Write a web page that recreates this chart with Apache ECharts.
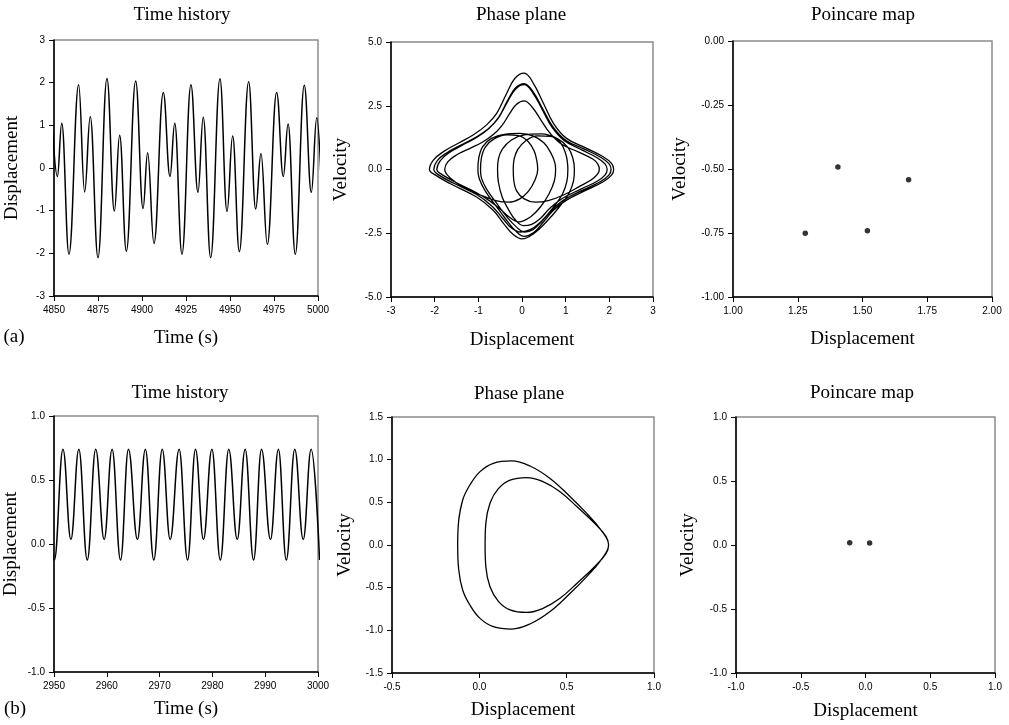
<!DOCTYPE html>
<html>
<head>
<meta charset="utf-8">
<script src="https://cdn.jsdelivr.net/npm/echarts@6/dist/echarts.min.js"></script>
<style>
  html, body { margin: 0; padding: 0; background: #fff; }
  #chart { width: 1009px; height: 725px; }
</style>
</head>
<body>
<div id="chart"></div>
<script>
// ---- Case (a): period-4 response ----
// Displacement extrema [time (s), displacement]; the first and last points lie just outside the window.
const historyA = [
  [4848.1, 1.77], [4851.9, -0.2], [4854.4, 1.05], [4858.5, -2.02], [4864.0, 1.95],
  [4867.4, -0.56], [4870.6, 1.2], [4875.0, -2.1], [4880.1, 2.1], [4884.3, -1.01],
  [4887.3, 0.77], [4891.1, -1.95], [4896.4, 2.04], [4900.6, -0.95], [4903.2, 0.36],
  [4906.8, -1.77], [4912.1, 1.77], [4915.9, -0.2], [4918.6, 1.05], [4922.7, -2.02],
  [4927.8, 1.95], [4931.8, -0.57], [4934.8, 1.19], [4939.0, -2.1], [4944.3, 2.09],
  [4948.3, -1.02], [4951.5, 0.75], [4955.3, -1.96], [4960.6, 2.02], [4964.6, -0.96],
  [4967.6, 0.34], [4971.2, -1.79], [4976.5, 1.77], [4980.3, -0.2], [4983.0, 1.03],
  [4987.1, -2.02], [4992.2, 1.94], [4996.2, -0.57], [4999.3, 1.18], [5003.3, -2.1]
];

// Phase-plane orbit over one period [displacement, velocity]
const orbitA = [
  [-0.2, 0], [-0.18, 0.42], [-0.1, 0.78], [0.08, 1.12], [0.35, 1.32], [0.65, 1.3], [0.88, 1.05], [1.0, 0.62], [1.04, 0.28],
  [1.05, 0], [1.03, -0.45], [0.93, -0.95], [0.72, -1.48], [0.46, -2.0], [0.2, -2.35], [-0.03, -2.45], [-0.25, -2.28], [-0.45, -1.9], [-0.68, -1.45], [-1.02, -1.0], [-1.55, -0.55], [-1.9, -0.22],
  [-2.02, 0], [-1.94, 0.35], [-1.72, 0.66], [-1.4, 0.96], [-1.07, 1.25], [-0.77, 1.6], [-0.55, 2.0], [-0.33, 2.66], [-0.15, 3.15], [0.05, 3.33], [0.25, 3.0], [0.47, 2.33], [0.69, 1.65], [0.97, 1.13], [1.38, 0.76], [1.72, 0.46], [1.9, 0.22],
  [1.95, 0], [1.9, -0.22], [1.72, -0.46], [1.36, -0.76], [0.93, -1.13], [0.65, -1.5], [0.42, -1.92], [0.22, -2.15], [0.03, -2.2], [-0.15, -1.98], [-0.3, -1.6], [-0.45, -1.1], [-0.54, -0.5],
  [-0.56, 0], [-0.54, 0.42], [-0.45, 0.8], [-0.25, 1.15], [0.05, 1.36], [0.45, 1.4], [0.8, 1.22], [1.06, 0.85], [1.17, 0.4],
  [1.2, 0], [1.18, -0.45], [1.07, -0.95], [0.84, -1.5], [0.56, -2.05], [0.28, -2.5], [0.0, -2.72], [-0.2, -2.55], [-0.43, -2.1], [-0.66, -1.6], [-1.04, -1.08], [-1.65, -0.55], [-1.98, -0.22],
  [-2.12, 0], [-2.03, 0.37], [-1.8, 0.7], [-1.46, 1.03], [-1.12, 1.35], [-0.81, 1.75], [-0.58, 2.2], [-0.35, 2.99], [-0.16, 3.58], [0.05, 3.78], [0.26, 3.38], [0.49, 2.6], [0.72, 1.81], [1.02, 1.22], [1.48, 0.83], [1.86, 0.5], [2.05, 0.24],
  [2.1, 0], [2.05, -0.22], [1.86, -0.48], [1.48, -0.8], [1.02, -1.2], [0.72, -1.6], [0.48, -2.08], [0.26, -2.48], [0.05, -2.62], [-0.15, -2.4], [-0.37, -1.95], [-0.6, -1.42], [-0.84, -0.85], [-0.98, -0.35],
  [-1.01, 0], [-0.99, 0.45], [-0.9, 0.9], [-0.7, 1.22], [-0.4, 1.38], [-0.05, 1.42], [0.25, 1.32], [0.5, 1.05], [0.66, 0.65], [0.75, 0.28],
  [0.77, 0], [0.74, -0.45], [0.62, -0.95], [0.43, -1.45], [0.2, -1.85], [-0.08, -2.05], [-0.3, -1.85], [-0.5, -1.55], [-0.75, -1.22], [-1.05, -0.9], [-1.5, -0.52], [-1.83, -0.2],
  [-1.95, 0], [-1.87, 0.35], [-1.66, 0.67], [-1.35, 0.97], [-1.03, 1.27], [-0.75, 1.62], [-0.54, 2.03], [-0.33, 2.7], [-0.15, 3.2], [0.05, 3.37], [0.26, 3.03], [0.48, 2.36], [0.71, 1.67], [1.0, 1.15], [1.44, 0.79], [1.8, 0.48], [1.99, 0.23],
  [2.04, 0], [1.99, -0.22], [1.8, -0.47], [1.43, -0.78], [0.98, -1.17], [0.7, -1.56], [0.46, -2.02], [0.25, -2.36], [0.06, -2.45], [-0.13, -2.25], [-0.35, -1.85], [-0.57, -1.35], [-0.8, -0.8], [-0.93, -0.33],
  [-0.95, 0], [-0.93, 0.45], [-0.84, 0.88], [-0.64, 1.2], [-0.35, 1.36], [-0.08, 1.33], [0.14, 1.1], [0.28, 0.72], [0.34, 0.34],
  [0.36, 0], [0.3, -0.4], [0.15, -0.85], [-0.05, -1.15], [-0.3, -1.28], [-0.6, -1.22], [-0.95, -1.0], [-1.35, -0.68], [-1.65, -0.32],
  [-1.77, 0], [-1.7, 0.3], [-1.5, 0.57], [-1.2, 0.82], [-0.9, 1.08], [-0.65, 1.38], [-0.46, 1.72], [-0.28, 2.2], [-0.13, 2.55], [0.05, 2.69], [0.23, 2.45], [0.43, 1.95], [0.63, 1.45], [0.9, 1.0], [1.3, 0.68], [1.63, 0.4], [1.74, 0.2],
  [1.77, 0], [1.65, -0.32], [1.3, -0.68], [0.95, -1.0], [0.6, -1.22], [0.3, -1.28], [0.05, -1.15], [-0.12, -0.85], [-0.19, -0.4],
  [-0.2, 0], [-0.18, 0.42], [-0.1, 0.78]
];

// Poincare section points [displacement, velocity]
const poincareA = [[1.279, -0.751], [1.405, -0.492], [1.519, -0.741], [1.678, -0.542]];

// ---- Case (b): period-2 response ----
const historyB = [
  [2948.5, 0.74], [2950.07, -0.125], [2951.7, 0.74], [2953.2, 0.035], [2954.7, 0.74],
  [2956.3, -0.125], [2957.9, 0.74], [2959.5, 0.035], [2961.0, 0.74], [2962.6, -0.125],
  [2964.1, 0.74], [2965.8, 0.035], [2967.3, 0.74], [2968.9, -0.125], [2970.5, 0.74],
  [2972.0, 0.035], [2973.7, 0.74], [2975.3, -0.125], [2976.8, 0.74], [2978.3, 0.035],
  [2979.9, 0.74], [2981.5, -0.125], [2983.1, 0.74], [2984.7, 0.035], [2986.2, 0.74],
  [2987.8, -0.125], [2989.3, 0.74], [2991.0, 0.035], [2992.5, 0.74], [2994.0, -0.125],
  [2995.6, 0.74], [2997.2, 0.035], [2998.7, 0.74], [3000.3, -0.125]
];

const orbitB = [
  [-0.124, 0], [-0.118, 0.29], [-0.095, 0.53], [-0.055, 0.7], [0.004, 0.86], [0.08, 0.957], [0.185, 0.985], [0.29, 0.926], [0.405, 0.78], [0.52, 0.566], [0.615, 0.37], [0.695, 0.18],
  [0.74, 0],
  [0.725, -0.1], [0.66, -0.254], [0.558, -0.45], [0.462, -0.625], [0.367, -0.74], [0.271, -0.79], [0.176, -0.76], [0.109, -0.66], [0.061, -0.49], [0.037, -0.25],
  [0.033, 0],
  [0.037, 0.25], [0.061, 0.49], [0.109, 0.66], [0.176, 0.76], [0.271, 0.79], [0.367, 0.74], [0.462, 0.625], [0.558, 0.45], [0.66, 0.254], [0.725, 0.1],
  [0.74, 0],
  [0.695, -0.18], [0.615, -0.37], [0.52, -0.566], [0.405, -0.78], [0.29, -0.926], [0.185, -0.985], [0.08, -0.957], [0.004, -0.86], [-0.055, -0.7], [-0.095, -0.53], [-0.118, -0.29],
  [-0.124, 0], [-0.118, 0.29], [-0.095, 0.53]
];

const poincareB = [[-0.122, 0.018], [0.032, 0.016]];

// Axis ranges: [min, max, interval, decimals]
const axesX = [
  [4850, 5000, 25, 0], [-3, 3, 1, 0], [1, 2, 0.25, 2],
  [2950, 3000, 10, 0], [-0.5, 1, 0.5, 1], [-1, 1, 0.5, 1]
];
const axesY = [
  [-3, 3, 1, 0], [-5, 5, 2.5, 1], [-1, 0, 0.25, 2],
  [-1, 1, 0.5, 1], [-1.5, 1.5, 0.5, 1], [-1, 1, 0.5, 1]
];
const xNames = ['Time (s)', 'Displacement', 'Displacement', 'Time (s)', 'Displacement', 'Displacement'];
const yNames = ['Displacement', 'Velocity', 'Velocity', 'Displacement', 'Velocity', 'Velocity'];
const panelTitles = ['Time history', 'Phase plane', 'Poincare map', 'Time history', 'Phase plane', 'Poincare map'];

// ---- Layout ----
const grids = [
  { left: 54, top: 40, width: 264, height: 256 },
  { left: 391, top: 42, width: 262, height: 255 },
  { left: 733, top: 41, width: 259, height: 256 },
  { left: 54, top: 416, width: 264, height: 256 },
  { left: 392, top: 417, width: 262, height: 256 },
  { left: 736, top: 417, width: 259, height: 256 }
];
const xNameGap = [33, 34, 33, 28, 28, 29];
const yNameGap = [32, 40, 43, 33, 37, 38];
const titlePos = [[182, 15], [521, 15], [863, 15], [180, 393], [519, 394], [862, 393]];

const serif = '"Liberation Serif", "Times New Roman", serif';
const sans = '"Liberation Sans", Arial, sans-serif';

function makeAxis(idx, range, name, gap) {
  const [min, max, interval, dec] = range;
  return {
    type: 'value', gridIndex: idx, min, max, interval,
    name, nameLocation: 'middle', nameGap: gap,
    nameTextStyle: { fontFamily: serif, fontSize: 19, color: '#000' },
    axisLine: { show: true, onZero: false, lineStyle: { color: '#000', width: 1.5 } },
    axisTick: { show: true, inside: false, length: 5, lineStyle: { color: '#000', width: 1 } },
    axisLabel: {
      fontFamily: sans, fontSize: 10, color: '#000', margin: 9,
      formatter: v => Number(v).toFixed(dec)
    },
    splitLine: { show: false }
  };
}

const lineStyle = { color: '#000', width: 1.5 };

const option = {
  animation: false,
  backgroundColor: '#fff',
  grid: grids.map(g => Object.assign({ show: true, borderColor: '#8c8c8c', borderWidth: 1.5, containLabel: false }, g)),
  xAxis: axesX.map((r, i) => makeAxis(i, r, xNames[i], xNameGap[i])),
  yAxis: axesY.map((r, i) => makeAxis(i, r, yNames[i], yNameGap[i])),
  series: [
    { type: 'line', xAxisIndex: 0, yAxisIndex: 0, data: historyA, showSymbol: false, smooth: 0.42, smoothMonotone: 'x', clip: true, lineStyle },
    { type: 'line', xAxisIndex: 1, yAxisIndex: 1, data: orbitA, showSymbol: false, smooth: 0.4, clip: true, lineStyle: { color: '#000', width: 1.3 } },
    { type: 'scatter', xAxisIndex: 2, yAxisIndex: 2, data: poincareA, symbol: 'circle', symbolSize: 5.5, itemStyle: { color: '#000' } },
    { type: 'line', xAxisIndex: 3, yAxisIndex: 3, data: historyB, showSymbol: false, smooth: 0.42, smoothMonotone: 'x', clip: true, lineStyle },
    { type: 'line', xAxisIndex: 4, yAxisIndex: 4, data: orbitB, showSymbol: false, smooth: 0.4, clip: true, lineStyle: { color: '#000', width: 1.3 } },
    { type: 'scatter', xAxisIndex: 5, yAxisIndex: 5, data: poincareB, symbol: 'circle', symbolSize: 5.5, itemStyle: { color: '#000' } }
  ],
  graphic: panelTitles.map((t, i) => ({
    type: 'text', x: titlePos[i][0], y: titlePos[i][1],
    style: { text: t, font: '19px ' + serif, fill: '#000', align: 'center', verticalAlign: 'middle', textAlign: 'center', textVerticalAlign: 'middle' }
  })).concat([
    { type: 'text', x: 14, y: 337, style: { text: '(a)', font: '19px ' + serif, fill: '#000', align: 'center', verticalAlign: 'middle', textAlign: 'center', textVerticalAlign: 'middle' } },
    { type: 'text', x: 15, y: 709, style: { text: '(b)', font: '19px ' + serif, fill: '#000', align: 'center', verticalAlign: 'middle', textAlign: 'center', textVerticalAlign: 'middle' } }
  ])
};

const chart = echarts.init(document.getElementById('chart'), null, { renderer: 'canvas' });
chart.setOption(option);
</script>
</body>
</html>
